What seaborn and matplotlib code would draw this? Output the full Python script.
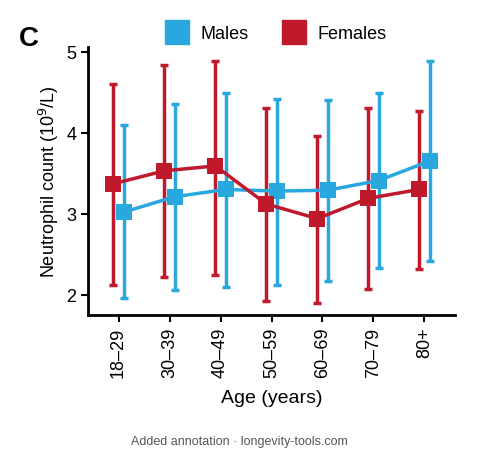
import numpy as np
import pandas as pd
import seaborn as sns
import matplotlib.pyplot as plt
from matplotlib.lines import Line2D

ages = ['18–29', '30–39', '40–49', '50–59', '60–69', '70–79', '80+']
male_mean = [3.02, 3.21, 3.30, 3.28, 3.29, 3.41, 3.65]
male_hi = [4.09, 4.36, 4.49, 4.42, 4.41, 4.49, 4.88]
male_lo = [1.96, 2.06, 2.09, 2.12, 2.17, 2.33, 2.42]
female_mean = [3.37, 3.53, 3.59, 3.12, 2.94, 3.19, 3.30]
female_hi = [4.60, 4.83, 4.89, 4.30, 3.96, 4.30, 4.27]
female_lo = [2.12, 2.22, 2.24, 1.92, 1.90, 2.07, 2.32]

blue = '#29A8E0'
red = '#C0192C'

sns.set_style('ticks')
plt.rcParams['font.family'] = ['Liberation Sans', 'DejaVu Sans']
plt.rcParams['text.color'] = 'black'
plt.rcParams['axes.labelcolor'] = 'black'
plt.rcParams['xtick.color'] = 'black'
plt.rcParams['ytick.color'] = 'black'
plt.rcParams['axes.edgecolor'] = 'black'

fig = plt.figure(figsize=(4.78, 4.6), dpi=100)
ax = fig.add_axes([0.184, 0.313, 0.768, 0.583])

x = np.arange(len(ages))
series = [('Males', male_mean, male_lo, male_hi, blue, 0.1),
          ('Females', female_mean, female_lo, female_hi, red, -0.1)]
for name, m, lo, hi, c, off in series:
    m = np.array(m)
    yerr = [m - np.array(lo), np.array(hi) - m]
    ax.errorbar(x + off, m, yerr=yerr, fmt='none', ecolor=c, elinewidth=2.5,
                capsize=3, capthick=2.5, zorder=2)
    df = pd.DataFrame({'x': x + off, 'y': m})
    sns.lineplot(data=df, x='x', y='y', ax=ax, color=c, lw=2.5, marker='s',
                 markersize=11, markeredgewidth=0, label=name, zorder=3)

ax.set_xlim(-0.6, 6.6)
ax.set_ylim(1.75, 5.06)
ax.set_yticks([2, 3, 4, 5])
ax.set_xticks(x)
ax.set_xticklabels(ages, rotation=90, fontsize=13)
ax.tick_params(axis='y', labelsize=13, width=1.5, length=5)
ax.tick_params(axis='x', width=1.5, length=5)
for s in ['left', 'bottom']:
    ax.spines[s].set_linewidth(2)
sns.despine(ax=ax)
ax.set_xlabel('Age (years)', fontsize=14, labelpad=8)
ax.set_ylabel('Neutrophil count (10$^9$/L)', fontsize=13)

handles = [Line2D([], [], ls='none', marker='s', markersize=17, color=blue),
           Line2D([], [], ls='none', marker='s', markersize=17, color=red)]
fig.legend(handles, ['Males', 'Females'], loc='center', bbox_to_anchor=(0.57, 0.925),
           ncol=2, frameon=False, fontsize=13, handletextpad=0.3, columnspacing=1.5)
ax.get_legend().remove()

fig.text(0.04, 0.915, 'C', fontsize=20, fontweight='bold', va='center')
fig.text(0.5, 0.04, 'Added annotation · longevity-tools.com', fontsize=9,
         color='#555555', ha='center', va='center')

fig.savefig('out.png', dpi=100)
